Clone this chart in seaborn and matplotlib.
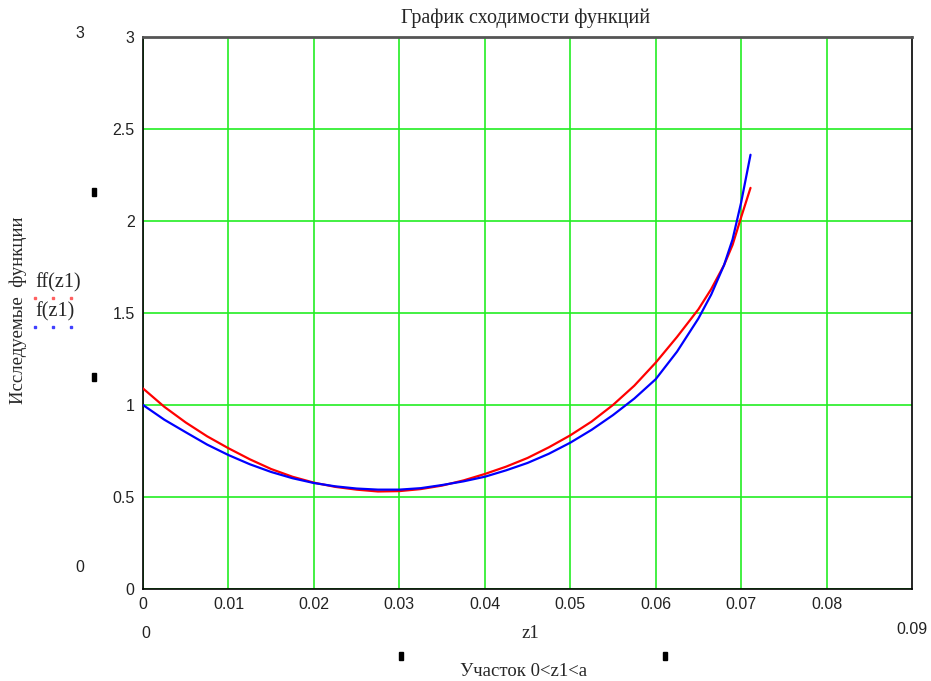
import numpy as np
import pandas as pd
import matplotlib
matplotlib.use("Agg")
import matplotlib.pyplot as plt
import seaborn as sns
from matplotlib.patches import Rectangle

# values
z1 = [0, 0.0025, 0.005, 0.0075, 0.01, 0.0125, 0.015, 0.0175, 0.02, 0.0225,
      0.025, 0.0275, 0.03, 0.0325, 0.035, 0.0375, 0.04, 0.0425, 0.045, 0.0475,
      0.05, 0.0525, 0.055, 0.0575, 0.06, 0.0625, 0.065, 0.0665, 0.068, 0.069,
      0.07, 0.0711]
ff_vals = [1.09, 0.99, 0.905, 0.83, 0.765, 0.705, 0.652, 0.61, 0.578, 0.555,
           0.54, 0.53, 0.532, 0.543, 0.562, 0.59, 0.625, 0.665, 0.712, 0.77,
           0.835, 0.91, 1.0, 1.105, 1.23, 1.37, 1.52, 1.63, 1.76, 1.87,
           2.02, 2.18]
f_vals = [1.0, 0.92, 0.852, 0.785, 0.728, 0.678, 0.636, 0.602, 0.576, 0.558,
          0.546, 0.54, 0.54, 0.548, 0.565, 0.585, 0.61, 0.645, 0.685, 0.735,
          0.795, 0.865, 0.945, 1.035, 1.14, 1.29, 1.47, 1.6, 1.76, 1.90,
          2.10, 2.36]
x_ticks = [0, 0.01, 0.02, 0.03, 0.04, 0.05, 0.06, 0.07, 0.08]
y_ticks = [0, 0.5, 1, 1.5, 2, 2.5, 3]
x_tick_labels = ["0", "0.01", "0.02", "0.03", "0.04", "0.05", "0.06", "0.07", "0.08"]
y_tick_labels = ["0", "0.5", "1", "1.5", "2", "2.5", "3"]

df = pd.DataFrame({"z1": z1, "ff": ff_vals, "f": f_vals})

sns.set_style("white")
plt.rcParams['font.family'] = ['Liberation Sans', 'DejaVu Sans']

W, H = 931, 681
fig = plt.figure(figsize=(W / 100, H / 100), dpi=100)
ax = fig.add_axes([143 / W, 1 - 589 / H, (912 - 143) / W, (589 - 37) / H])

sns.lineplot(data=df, x="z1", y="ff", ax=ax, color="#ff0000", lw=1.6, zorder=3)
sns.lineplot(data=df, x="z1", y="f", ax=ax, color="#0000ff", lw=1.6, zorder=4)

ax.set_xlim(0, 0.09)
ax.set_ylim(0, 3)
ax.set_xticks(x_ticks)
ax.set_xticklabels(x_tick_labels)
ax.set_yticks(y_ticks)
ax.set_yticklabels(y_tick_labels)
ax.tick_params(length=0, labelsize=11.5, colors="#222222", pad=6)
ax.grid(True, color="#22ee22", lw=1.2)
ax.set_xlabel("")
ax.set_ylabel("")
for side in ["left", "bottom", "right"]:
    ax.spines[side].set_color("black")
    ax.spines[side].set_linewidth(1.2)
ax.spines["top"].set_color("#555555")
ax.spines["top"].set_linewidth(2)

serif = ["Liberation Serif", "DejaVu Serif"]


def px(x, y):
    return x / W, 1 - y / H


fig.text(*px(526, 18), "График сходимости функций", family=serif, fontsize=14.5,
         ha="center", va="center")
fig.text(*px(80, 33), "3", fontsize=11.5, ha="center", va="center", color="#222222")
fig.text(*px(80, 568), "0", fontsize=11.5, ha="center", va="center", color="#222222")
fig.text(*px(146, 633), "0", fontsize=11.5, ha="center", va="center", color="#222222")
fig.text(*px(912, 630), "0.09", fontsize=11.5, ha="center", va="center", color="#222222")
fig.text(*px(530, 633), "z1", family=serif, fontsize=13.5, ha="center", va="center")
fig.text(*px(524, 672), "Участок 0<z1<a", family=serif, fontsize=13.5,
         ha="center", va="center")
fig.text(*px(18, 310), "Исследуемые  функции", family=serif, fontsize=13.5,
         rotation=90, ha="center", va="center")
fig.text(*px(35, 283), "ff(z1)", family=serif, fontsize=14.5, ha="left", va="center")
fig.text(*px(35, 312), "f(z1)", family=serif, fontsize=14.5, ha="left", va="center")
for dx in [34, 52, 70]:
    fig.patches.append(Rectangle(px(dx, 299), 2 / W, 2 / H, transform=fig.transFigure,
                                 color="#ff6060", figure=fig))
    fig.patches.append(Rectangle(px(dx, 328), 2 / W, 2 / H, transform=fig.transFigure,
                                 color="#4040ff", figure=fig))
for mx, my in [(92, 196), (92, 381), (399, 660), (663, 660)]:
    fig.patches.append(Rectangle(px(mx, my), 4 / W, 8 / H, transform=fig.transFigure,
                                 color="black", figure=fig))

fig.savefig("out.png", dpi=100)
